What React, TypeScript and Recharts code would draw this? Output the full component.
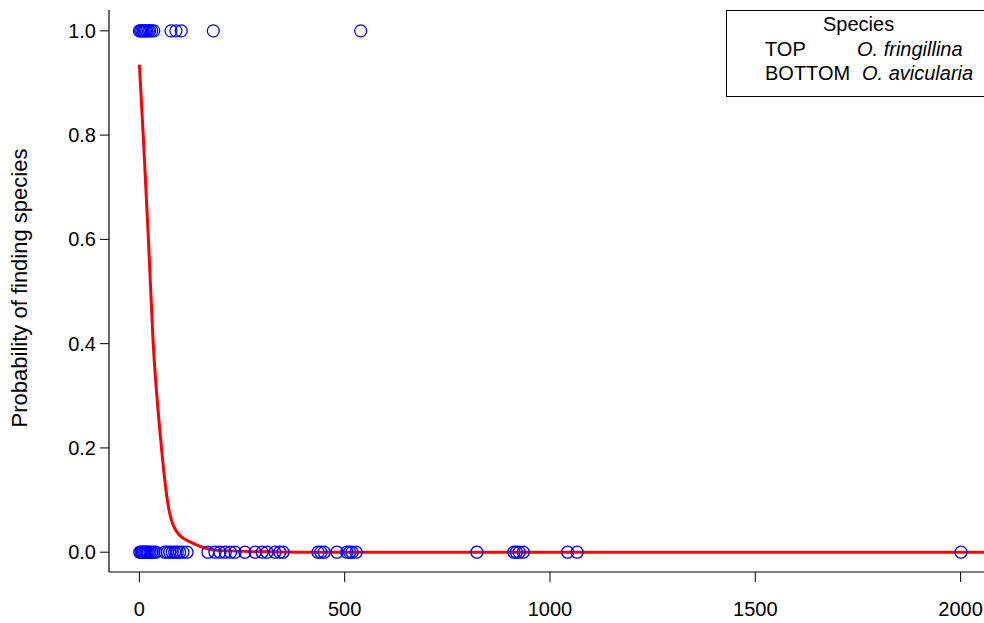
import { ComposedChart, Line, Scatter, XAxis, YAxis } from "recharts";

// presence (1) / absence (0) observations, x = distance
const topX = [0, 3, 6, 9, 12, 15, 18, 22, 25, 30, 35, 77, 89, 102, 180, 539];
const bottomX = [
  1, 4, 7, 10, 13, 16, 19, 22, 26, 30, 35, 40, 62, 68, 74, 80, 86, 92, 98, 106, 116,
  167, 184, 196, 209, 222, 233, 257, 282, 299, 311, 330, 342, 350,
  435, 442, 450, 481, 505, 512, 518, 528, 822, 912, 918, 925, 935, 1043, 1066, 2001,
];

// fitted probability curve
const curveX = [0, 10, 22, 33, 52, 71, 94, 131, 200, 400, 2100];
const curveP = [0.935, 0.79, 0.6, 0.41, 0.215, 0.086, 0.036, 0.017, 0.003, 0, 0];

const xTicks = [0, 500, 1000, 1500, 2000];
const yTicks = [0, 0.2, 0.4, 0.6, 0.8, 1];

const topPts = topX.map((x) => ({ x, y: 1 }));
const bottomPts = bottomX.map((x) => ({ x, y: 0 }));
const curve = curveX.map((x, i) => ({ x, p: curveP[i] }));

const font = "'Liberation Sans', Arial, Helvetica, sans-serif";
const tickStyle = { fontSize: 20, fill: "#000", fontFamily: font };

const Ring = (props: any) => (
  <circle cx={props.cx} cy={props.cy} r={6} fill="none" stroke="#0000FF" strokeWidth={1.3} />
);

const YLabel = ({ viewBox }: any) => {
  const cy = viewBox.y + viewBox.height / 2 - 3;
  return (
    <text
      x={19}
      y={cy}
      transform={`rotate(-90 19 ${cy})`}
      textAnchor="middle"
      dominantBaseline="central"
      style={{ fontSize: 22, fontFamily: font, fill: "#000" }}
    >
      Probability of finding species
    </text>
  );
};

const txt = (left: number, top: number, italic = false) => ({
  position: "absolute" as const,
  left,
  top,
  fontSize: 20,
  lineHeight: "24px",
  fontStyle: italic ? "italic" : "normal",
  whiteSpace: "nowrap" as const,
});

export default function App() {
  return (
    <div
      style={{
        position: "absolute",
        left: 0,
        top: 0,
        width: 984,
        height: 623,
        overflow: "hidden",
        background: "#fff",
        fontFamily: font,
      }}
    >
      <ComposedChart width={984} height={623} margin={{ top: 10, right: 0, bottom: 0, left: 0 }}>
        <XAxis
          xAxisId="top"
          orientation="top"
          type="number"
          dataKey="x"
          domain={[-74, 2057]}
          allowDataOverflow
          height={0}
          tick={false}
          tickLine={false}
          axisLine={{ stroke: "#000", strokeWidth: 1.2 }}
        />
        <XAxis
          type="number"
          dataKey="x"
          domain={[-74, 2057]}
          allowDataOverflow
          ticks={xTicks}
          height={51}
          tick={tickStyle}
          tickSize={10}
          tickMargin={20}
          tickLine={{ stroke: "#000" }}
          axisLine={{ stroke: "#000", strokeWidth: 1.2 }}
        />
        <YAxis
          type="number"
          domain={[-0.038, 1.04]}
          allowDataOverflow
          ticks={yTicks}
          width={109}
          tick={tickStyle}
          tickSize={9}
          tickMargin={4}
          tickFormatter={(v: number) => v.toFixed(1)}
          tickLine={{ stroke: "#000" }}
          axisLine={{ stroke: "#000", strokeWidth: 1.2 }}
          label={{ content: YLabel }}
        />
        <Scatter data={bottomPts} dataKey="y" shape={Ring} isAnimationActive={false} />
        <Scatter data={topPts} dataKey="y" shape={Ring} isAnimationActive={false} />
        <Line
          data={curve}
          dataKey="p"
          type="monotone"
          stroke="#FF0000"
          strokeWidth={3}
          dot={false}
          activeDot={false}
          isAnimationActive={false}
        />
      </ComposedChart>
      <div
        style={{
          position: "absolute",
          left: 726,
          top: 10,
          width: 300,
          height: 87,
          border: "1px solid #000",
          boxSizing: "border-box",
          background: "#fff",
        }}
      />
      <div style={txt(823, 12)}>Species</div>
      <div style={txt(765, 37)}>TOP</div>
      <div style={txt(857, 37, true)}>O. fringillina</div>
      <div style={txt(765, 61)}>BOTTOM</div>
      <div style={txt(862, 61, true)}>O. avicularia</div>
    </div>
  );
}
